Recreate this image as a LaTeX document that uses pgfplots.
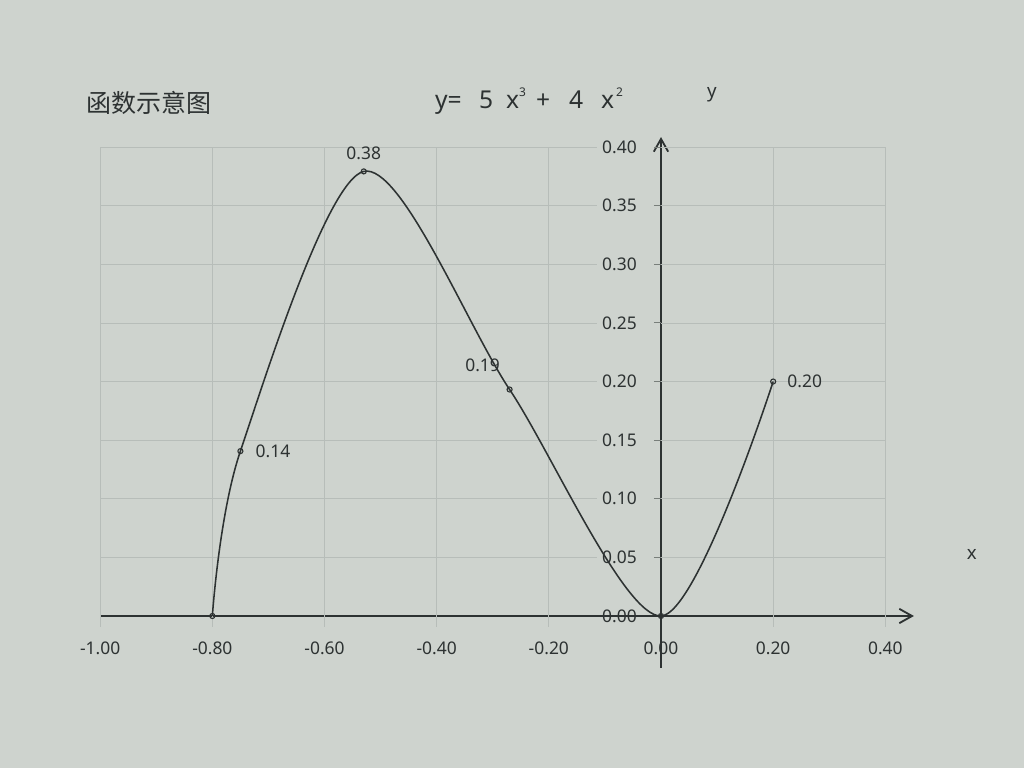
\documentclass[border=0pt]{standalone}
\usepackage{fontspec}
\setmainfont{Noto Sans}
\newfontfamily\cjk{Noto Sans CJK SC}
\usepackage{pgfplots}
\pgfplotsset{compat=1.18}
\usetikzlibrary{arrows.meta}
\definecolor{paper}{RGB}{206,211,206}
\definecolor{ink}{RGB}{45,50,50}
\definecolor{gridc}{RGB}{183,189,185}
\definecolor{tickc}{RGB}{120,126,122}
\newcommand\fs[1]{\fontsize{#1}{#1}\selectfont}

\begin{document}
\begin{tikzpicture}
\fill[paper] (0,0) rectangle (25.6cm,19.2cm);
\begin{axis}[
  at={(16.525cm,3.8cm)}, anchor=origin,
  x=14.02cm, y=29.31cm,
  xmin=-1.0, xmax=0.451, ymin=-0.044, ymax=0.4085,
  axis lines=middle,
  axis line style={draw=ink, line width=1.3pt,
    -{Straight Barb[length=0.32cm,width=0.36cm,line width=1.3pt]}},
  clip=false,
  xtick={-1,-0.8,-0.6,-0.4,-0.2,0,0.2,0.4},
  ytick={0,0.05,0.1,0.15,0.2,0.25,0.3,0.35,0.4},
  hide obscured x ticks=false, hide obscured y ticks=false,
  major tick length=0pt,
  /pgf/number format/.cd, fixed, fixed zerofill, precision=2, assume math mode=true,
  /pgfplots/.cd,
  xticklabel style={font=\fs{12.4}, text=ink, anchor=base, inner sep=0pt, yshift=-0.975cm},
  yticklabel style={font=\fs{12.4}, text=ink, anchor=east, inner sep=0pt, xshift=-0.6cm},
]
% grid, broken where the y tick labels stand
\pgfplotsinvokeforeach{-1,-0.8,-0.6,-0.4,-0.2,0.2,0.4}{
  \draw[gridc, line width=0.55pt] (axis cs:#1,-0.009) -- (axis cs:#1,0.4);
}
\pgfplotsinvokeforeach{0.05,0.1,0.15,0.2,0.25,0.3,0.35,0.4}{
  \draw[gridc, line width=0.55pt] (axis cs:-1,#1) -- (axis cs:-0.114,#1);
  \draw[gridc, line width=0.55pt] (axis cs:0,#1) -- (axis cs:0.4,#1);
  \draw[tickc, line width=0.6pt] (axis cs:-0.0125,#1) -- (axis cs:0,#1);
}

\addplot[ink, line width=1.1pt, smooth, tension=0.5,
  mark=o, mark size=1.8pt, mark options={line width=0.8pt, fill=paper}]
  coordinates {(-0.8,0) (-0.75,0.140625) (-0.53,0.379215) (-0.27,0.193185) (0,0) (0.2,0.2)};

\node[font=\fs{12.4}, text=ink, anchor=west, inner sep=0pt, xshift=0.375cm] at (axis cs:-0.75,0.140625) {0.14};
\node[font=\fs{12.4}, text=ink, inner sep=0pt, yshift=0.45cm] at (axis cs:-0.53,0.379215) {0.38};
\node[font=\fs{12.4}, text=ink, inner sep=0pt, xshift=-0.675cm, yshift=0.6cm] at (axis cs:-0.27,0.193185) {0.19};
\node[font=\fs{12.4}, text=ink, anchor=west, inner sep=0pt, xshift=0.35cm] at (axis cs:0.2,0.2) {0.20};
\end{axis}

\begin{scope}[x=0.025cm, y=-0.025cm, shift={(0,19.2cm)}, every node/.style={text=ink, inner sep=0pt}]
  \node[anchor=west, font=\cjk\fs{17.8}] at (86,103) {函数示意图};
  \node[anchor=base west, font=\fs{17.5}] at (435,109) {y=};
  \node[anchor=base west, font=\fs{17.5}] at (479,109) {5};
  \node[anchor=base west, font=\fs{17.5}] at (506,109) {x};
  \node[anchor=base west, font=\fs{8.5}] at (519,97) {3};
  \node[anchor=base west, font=\fs{17.5}] at (536,109) {+};
  \node[anchor=base west, font=\fs{17.5}] at (569,109) {4};
  \node[anchor=base west, font=\fs{17.5}] at (601,109) {x};
  \node[anchor=base west, font=\fs{8.5}] at (616,97) {2};
  \node[font=\fs{13.3}] at (712,95) {y};
  \node[font=\fs{13.3}] at (972,555) {x};
\end{scope}
\end{tikzpicture}
\end{document}
